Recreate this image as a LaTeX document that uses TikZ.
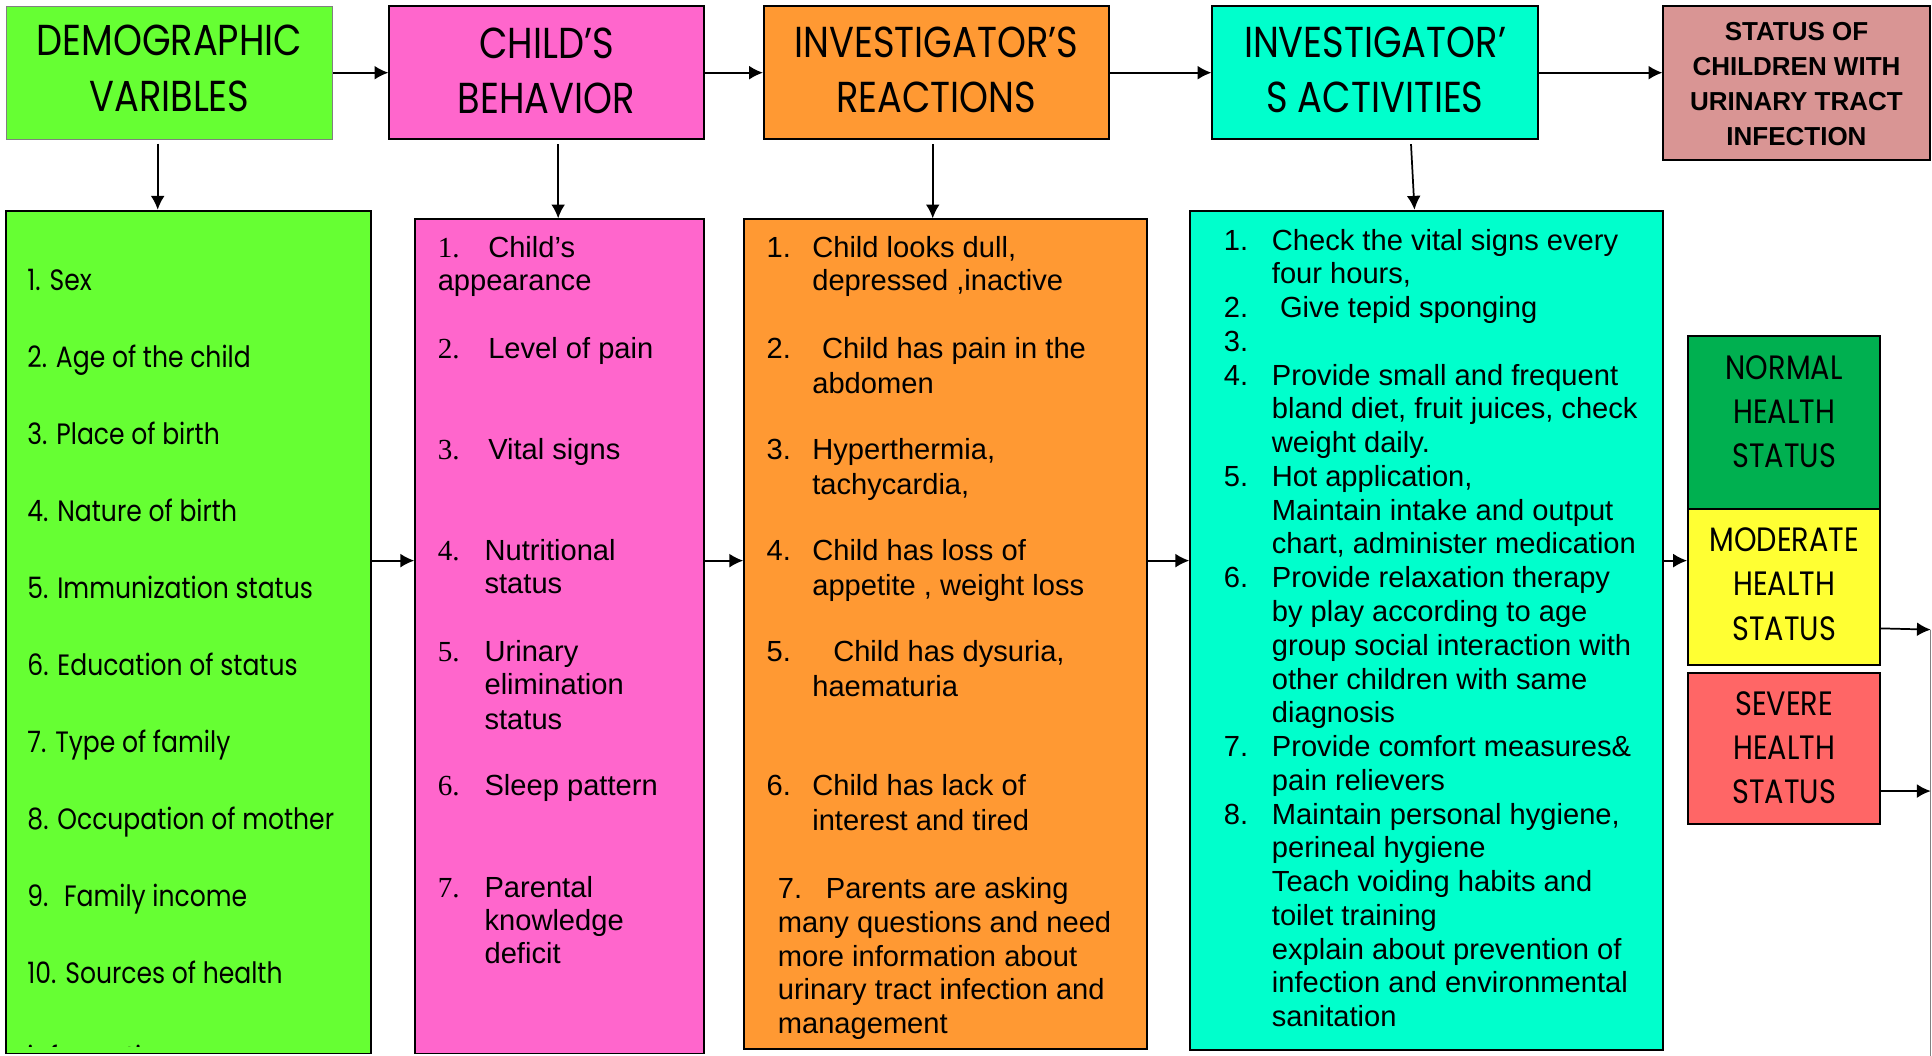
\documentclass[tikz,border=0pt]{standalone}
\usepackage{fontspec}
\setmainfont{Liberation Sans}
\newfontfamily\geofont[FakeStretch=0.85]{Poppins}
\newfontfamily\numfont{Liberation Serif}
\usetikzlibrary{arrows.meta,fit}
\definecolor{demogreen}{HTML}{66FF33}
\definecolor{childpink}{HTML}{FF66CC}
\definecolor{reacorange}{HTML}{FF9933}
\definecolor{actcyan}{HTML}{00FFCC}
\definecolor{statrose}{HTML}{D99594}
\definecolor{normalgreen}{HTML}{00B050}
\definecolor{modyellow}{HTML}{FFFF33}
\definecolor{severered}{HTML}{FF6666}
\tikzset{box/.style={draw,line width=1.1pt,inner sep=0pt}}
\tikzset{headtext/.style={align=center,inner sep=0pt,font=\geofont\fontsize{25}{32}\selectfont}}
\tikzset{item/.style={anchor=base west,inner sep=0pt,font=\fontsize{16.8}{19.5}\selectfont}}
\tikzset{numitem/.style={item,font=\numfont\fontsize{16.8}{19.5}\selectfont}}
\tikzset{demoitem/.style={item,font=\geofont\fontsize{17}{20}\selectfont}}
\tikzset{stattext/.style={align=center,inner sep=0pt,font=\geofont\fontsize{19.5}{25.5}\selectfont}}
\tikzset{arr/.style={-{Latex[length=8pt,width=8pt]},line width=1pt}}

\begin{document}
\begin{tikzpicture}[x=0.025cm,y=-0.025cm]
  \useasboundingbox (0,0) rectangle (1568,857);

  \node[box,fill=demogreen,draw=gray,line width=0.6pt,fit={(5,5) (270,113)}] (demohead) {};
  \node[box,fill=childpink,fit={(316,5) (571,113)}] (childhead) {};
  \node[box,fill=reacorange,fit={(620,5) (900,113)}] (reachead) {};
  \node[box,fill=actcyan,fit={(984,5) (1248,113)}] (acthead) {};
  \node[box,fill=statrose,fit={(1350,5) (1566,130)}] (stathead) {};

  \node[headtext] (demotitle) at (demohead.center |- 0,55.5) {DEMOGRAPHIC\\VARIBLES};
  \node[headtext] (childtitle) at (childhead.center |- 0,57.5) {CHILD’S\\BEHAVIOR};
  \node[headtext] (reactitle) at (reachead.center |- 0,56.5) {INVESTIGATOR’S\\REACTIONS};
  \node[headtext] (acttitle) at (acthead.center |- 0,56.5) {INVESTIGATOR’\\S ACTIVITIES};
  \node[align=center,inner sep=0pt,font=\bfseries\fontsize{15}{20.2}\selectfont] (stattitle)
    at (stathead.center |- 0,68.5) {STATUS OF\\CHILDREN WITH\\URINARY TRACT\\INFECTION};

  \draw[arr] (demohead) -- (childhead);
  \draw[arr] (childhead) -- (reachead);
  \draw[arr] (reachead) -- (acthead);
  \draw[arr] (acthead.east) -- (stathead.west |- acthead.east);

  \node[box,fill=demogreen,fit={(5,171) (301,855)}] (demolist) {};
  \node[box,fill=childpink,fit={(337,178) (571,855)}] (childlist) {};
  \node[box,fill=reacorange,fit={(604,178) (931,851)}] (reaclist) {};
  \node[box,fill=actcyan,fit={(966,171) (1350,852)}] (actlist) {};
  \node[box,fill=normalgreen,fit={(1370,273) (1526,413)}] (normal) {};
  \node[box,fill=modyellow,fit={(1370,413) (1526,540)}] (moderate) {};
  \node[box,fill=severered,fit={(1370,546) (1526,669)}] (severe) {};

  \draw[arr,shorten <=0.08cm] (demohead.south -| 128,0) -- (demolist.north -| 128,0);
  \draw[arr,shorten <=0.08cm] (childhead.south -| 453,0) -- (childlist.north -| 453,0);
  \draw[arr,shorten <=0.08cm] (reachead.south -| 757,0) -- (reaclist.north -| 757,0);
  \draw[arr,shorten <=0.08cm] (acthead.south -| 1145,0) -- (actlist.north -| 1148,0);

  \draw[arr] (demolist.east |- 0,455) -- (childlist.west |- 0,455);
  \draw[arr] (childlist.east |- 0,455) -- (reaclist.west |- 0,455);
  \draw[arr] (reaclist.east |- 0,455) -- (actlist.west |- 0,455);
  \draw[arr] (actlist.east |- 0,455) -- (moderate.west |- 0,455);

  \foreach \t [count=\i] in {Sex, Age of the child, Place of birth, Nature of birth,
    Immunization status, Education of status, Type of family, Occupation of mother,
    {\ Family income}, Sources of health}
    \node[demoitem] (demoi\i) at (22,{236+62.5*(\i-1)}) {\i. \t};
  \begin{scope}
    \clip (0,0) rectangle (1568,849);
    \node[demoitem] (demoi11) at (22,866) {information};
  \end{scope}

  \foreach \n/\y in {1/201,2/283,3/365,4/447,5/529,6/638,7/720}
    \node[numitem] (childn\n) at (355,\y+8) {\n.};
  \foreach \x/\y/\t [count=\i] in {396/201/Child’s, 355/228/appearance, 396/283/Level of pain,
    396/365/Vital signs, 393/447/Nutritional, 393/474/status, 393/529/Urinary,
    393/556/elimination, 393/584/status, 393/638/Sleep pattern, 393/720/Parental,
    393/747/knowledge, 393/774/deficit}
    \node[item] (childl\i) at (\x,\y+8) {\t};

  \foreach \n/\x/\y in {1/622/201,2/622/283,3/622/365,4/622/447,5/622/529,6/622/638,7/631/721}
    \node[item] (reacn\n) at (\x,\y+8) {\n.};
  \foreach \x/\y/\t [count=\i] in {{659/201/Child looks dull,}, {659/228/depressed ,inactive},
    {667/283/Child has pain in the}, {659/311/abdomen}, {659/365/Hyperthermia,},
    {659/393/tachycardia,}, {659/447/Child has loss of}, {659/475/appetite , weight loss},
    {676/529/Child has dysuria,}, {659/557/haematuria}, {659/638/Child has lack of},
    {659/666/interest and tired}, {670/721/Parents are asking}, {631/749/many questions and need},
    {631/776/more information about}, {631/803/urinary tract infection and}, {631/831/management}}
    \node[item] (reacl\i) at (\x,\y+8) {\t};

  \foreach \n/\k in {1/0,2/2,3/3,4/4,5/7,6/10,7/15,8/17}
    \node[item] (actn\n) at (993,{203+27.4*\k}) {\n.};
  \foreach \k/\t in {{0/Check the vital signs every}, {1/four hours,}, {2/\ Give tepid sponging},
    {4/Provide small and frequent}, {5/bland diet, fruit juices, check}, {6/weight daily.},
    {7/Hot application,}, {8/Maintain intake and output}, {9/chart, administer medication},
    {10/Provide relaxation therapy}, {11/by play according to age}, {12/group social interaction with},
    {13/other children with same}, {14/diagnosis}, {15/Provide comfort measures\&},
    {16/pain relievers}, {17/Maintain personal hygiene,}, {18/perineal hygiene},
    {19/Teach voiding habits and}, {20/toilet training}, {21/explain about prevention of},
    {22/infection and environmental}, {23/sanitation}}
    \node[item] (actl\k) at (1032,{203+27.4*\k}) {\t};

  \node[stattext] (normaltext) at (normal.center |- 0,334) {NORMAL\\HEALTH\\STATUS};
  \node[stattext] (moderatetext) at (moderate.center |- 0,474) {MODERATE\\HEALTH\\STATUS};
  \node[stattext] (severetext) at (severe.center |- 0,607) {SEVERE\\HEALTH\\STATUS};

  \coordinate (rimtop) at (1567,511);
  \coordinate (rimlow) at (1567,642);
  \coordinate (rimend) at (1567,857);
  \draw[gray,line width=0.5pt] (rimtop) -- (rimend);
  \draw[arr] (moderate.east |- 0,510) -- (rimtop);
  \draw[arr] (severe.east |- rimlow) -- (rimlow);
\end{tikzpicture}
\end{document}
